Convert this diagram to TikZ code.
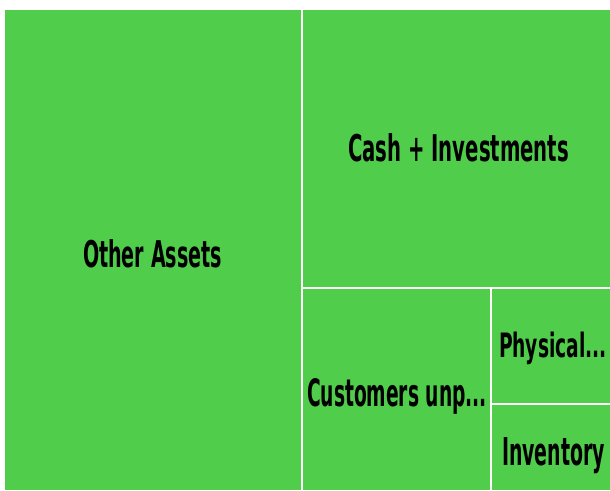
\documentclass[tikz,border=0pt]{standalone}
\usepackage{fontspec}
\setmainfont{DejaVu Sans}
\usepackage{graphicx}
\definecolor{tgreen}{RGB}{80,205,74}
\tikzset{
  cell/.style={fill=tgreen, draw=none},
  lbl/.style={inner sep=0pt, outer sep=0pt, anchor=base west, text=black, font=\bfseries}
}
\begin{document}
\begin{tikzpicture}[x=1pt,y=-1pt]
\useasboundingbox[fill=white] (0,0) rectangle (610,490);
% cells
\fill[cell] (5,10) rectangle (300.7,490);
\fill[cell] (302.7,10) rectangle (610,287.3);
\fill[cell] (302.7,289.3) rectangle (490.3,490);
\fill[cell] (492.3,289.3) rectangle (610,403.3);
\fill[cell] (492.3,405.3) rectangle (610,490);
% labels
\node[lbl] (other) at (83,267) {\resizebox{139pt}{28pt}{Other Assets}};
\node[lbl] (cash) at (348,161) {\resizebox{221pt}{28pt}{Cash + Investments}};
\node[lbl] (cust) at (307,406) {\resizebox{180pt}{28pt}{Customers unp...}};
\node[lbl] (phys) at (499,357) {\resizebox{108pt}{25.5pt}{Physical...}};
\node[lbl] (inv) at (502,465) {\resizebox{103pt}{28pt}{Inventory}};
\end{tikzpicture}
\end{document}
